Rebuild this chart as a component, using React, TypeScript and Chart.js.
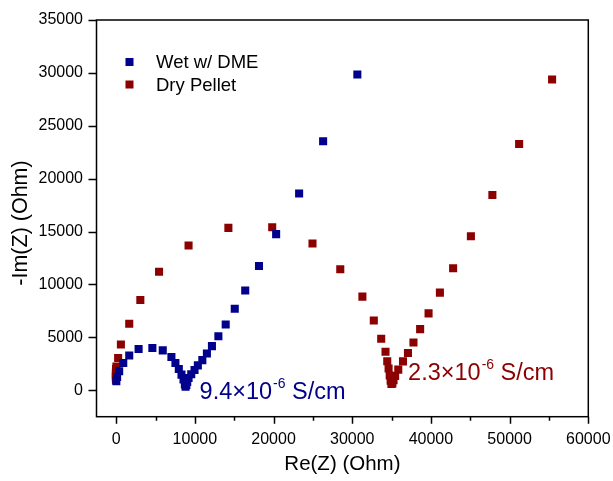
import React, { useEffect, useRef } from 'react';
import { Chart, registerables } from 'chart.js';

Chart.register(...registerables);

const wetRe = [20, 120, 380, 900, 1660, 2850, 4600, 5920, 7020, 7530, 7960, 8300, 8560, 8730, 8820, 8920, 9030, 9200, 9540, 9960, 10380, 10950, 11530, 12170, 12990, 13920, 15070, 16400, 18150, 20330, 23250, 26300, 30650];
const wetIm = [850, 1250, 1800, 2580, 3280, 3900, 3990, 3770, 3140, 2580, 2010, 1480, 1010, 540, 330, 500, 780, 1160, 1510, 1910, 2350, 2850, 3480, 4170, 5110, 6210, 7700, 9430, 11750, 14760, 18600, 23540, 29850];

const dryRe = [-30, -40, -40, -30, -10, 30, 250, 600, 1660, 3070, 5450, 9200, 14260, 19830, 24950, 28480, 31290, 32740, 33680, 34230, 34450, 34620, 34760, 34880, 34980, 35100, 35250, 35450, 35850, 36450, 37080, 37780, 38630, 39700, 41140, 42820, 45080, 47810, 51210, 55400];
const dryIm = [1000, 1250, 1500, 1750, 2000, 2250, 3050, 4320, 6280, 8540, 11200, 13690, 15350, 15410, 13880, 11430, 8850, 6590, 4870, 3640, 2750, 2050, 1400, 900, 600, 650, 950, 1350, 1950, 2730, 3520, 4520, 5780, 7270, 9230, 11530, 14550, 18460, 23270, 29380];

const xTicks = [0, 10000, 20000, 30000, 40000, 50000, 60000];
const xMinorTicks = [5000, 15000, 25000, 35000, 45000, 55000];
const yTicks = [0, 5000, 10000, 15000, 20000, 25000, 30000, 35000];

const seriesNames = ['Wet w/ DME', 'Dry Pellet'];
const BLUE = '#00008c';
const RED = '#8b0000';
const FONT = '"Liberation Sans", Arial, sans-serif';

const wetLabel = { x: 10600, y: -780, main: '9.4\u00d710', exp: '-6', rest: ' S/cm' };
const dryLabel = { x: 37100, y: 1010, main: '2.3\u00d710', exp: '-6', rest: ' S/cm' };

function drawSci(ctx: CanvasRenderingContext2D, px: number, py: number, lab: any, color: string) {
  ctx.fillStyle = color;
  ctx.textBaseline = 'alphabetic';
  ctx.textAlign = 'left';
  ctx.font = `23.5px ${FONT}`;
  ctx.fillText(lab.main, px, py);
  let w = ctx.measureText(lab.main).width;
  ctx.font = `14px ${FONT}`;
  ctx.fillText(lab.exp, px + w + 1, py - 11);
  w += ctx.measureText(lab.exp).width + 1;
  ctx.font = `23.5px ${FONT}`;
  ctx.fillText(lab.rest, px + w, py);
}

const decorPlugin = {
  id: 'decor',
  afterDraw(chart: any) {
    const { ctx, chartArea: a, scales } = chart;
    const x = scales.x;
    const y = scales.y;
    ctx.save();
    ctx.strokeStyle = '#000';
    ctx.lineWidth = 1.5;
    ctx.strokeRect(a.left, a.top, a.right - a.left, a.bottom - a.top);
    ctx.beginPath();
    xTicks.forEach((v) => {
      const p = Math.round(x.getPixelForValue(v)) + 0.5;
      ctx.moveTo(p, a.bottom);
      ctx.lineTo(p, a.bottom + 7);
    });
    xMinorTicks.forEach((v) => {
      const p = Math.round(x.getPixelForValue(v)) + 0.5;
      ctx.moveTo(p, a.bottom);
      ctx.lineTo(p, a.bottom + 4);
    });
    yTicks.forEach((v) => {
      const p = Math.round(y.getPixelForValue(v)) + 0.5;
      ctx.moveTo(a.left, p);
      ctx.lineTo(a.left - 8, p);
    });
    ctx.stroke();

    // legend
    const items = [BLUE, RED];
    items.forEach((c, i) => {
      const cy = 62 + i * 22.5;
      ctx.fillStyle = c;
      ctx.fillRect(125.5, cy - 4, 8, 8);
      ctx.fillStyle = '#000';
      ctx.font = `18.5px ${FONT}`;
      ctx.textBaseline = 'middle';
      ctx.textAlign = 'left';
      ctx.fillText(seriesNames[i], 156, cy + 1);
    });

    // annotations
    drawSci(ctx, x.getPixelForValue(wetLabel.x), y.getPixelForValue(wetLabel.y), wetLabel, BLUE);
    drawSci(ctx, x.getPixelForValue(dryLabel.x), y.getPixelForValue(dryLabel.y), dryLabel, RED);

    // axis titles
    ctx.fillStyle = '#000';
    ctx.textAlign = 'center';
    ctx.textBaseline = 'middle';
    ctx.font = `20.5px ${FONT}`;
    ctx.fillText('Re(Z) (Ohm)', (a.left + a.right) / 2, 464);
    ctx.save();
    ctx.translate(21.5, 223);
    ctx.rotate(-Math.PI / 2);
    ctx.font = `21.5px ${FONT}`;
    ctx.fillText('-Im(Z) (Ohm)', 0, 0);
    ctx.restore();
    ctx.restore();
  },
};

export default function App() {
  const ref = useRef<HTMLCanvasElement>(null);
  useEffect(() => {
    if (!ref.current) return;
    const chart = new Chart(ref.current, {
      type: 'scatter',
      data: {
        datasets: [
          {
            label: seriesNames[0],
            data: wetRe.map((v, i) => ({ x: v, y: wetIm[i] })),
            backgroundColor: BLUE,
            borderColor: BLUE,
            borderWidth: 0,
            pointStyle: 'rect',
            pointRadius: 5.7,
          },
          {
            label: seriesNames[1],
            data: dryRe.map((v, i) => ({ x: v, y: dryIm[i] })),
            backgroundColor: RED,
            borderColor: RED,
            borderWidth: 0,
            pointStyle: 'rect',
            pointRadius: 5.7,
          },
        ],
      },
      options: {
        animation: false,
        responsive: false,
        devicePixelRatio: 1,
        layout: { padding: { left: 0, right: 24.7, top: 20, bottom: 0 } },
        plugins: { legend: { display: false }, tooltip: { enabled: false } },
        scales: {
          x: {
            type: 'linear',
            min: -2500,
            max: 60000,
            afterBuildTicks: (s: any) => {
              s.ticks = xTicks.map((v) => ({ value: v }));
            },
            afterFit: (s: any) => {
              s.height = 64.3;
              s.paddingLeft = 0;
              s.paddingRight = 0;
            },
            grid: { display: false, drawTicks: false },
            border: { display: false },
            ticks: {
              padding: 13,
              color: '#000',
              font: { family: FONT, size: 16 },
              maxRotation: 0,
              autoSkip: false,
              callback: (v: any) => String(v),
            },
          },
          y: {
            type: 'linear',
            min: -2500,
            max: 35000,
            afterBuildTicks: (s: any) => {
              s.ticks = yTicks.map((v) => ({ value: v }));
            },
            afterFit: (s: any) => {
              s.width = 96.5;
              s.paddingTop = 0;
              s.paddingBottom = 0;
            },
            grid: { display: false, drawTicks: false },
            border: { display: false },
            ticks: {
              padding: 13.5,
              color: '#000',
              font: { family: FONT, size: 16 },
              autoSkip: false,
              callback: (v: any) => String(v),
            },
          },
        },
      },
      plugins: [decorPlugin],
    });
    return () => chart.destroy();
  }, []);
  return (
    <canvas
      ref={ref}
      width={613}
      height={481}
      style={{ position: 'fixed', left: 0, top: 0, display: 'block', background: '#fff' }}
    />
  );
}
